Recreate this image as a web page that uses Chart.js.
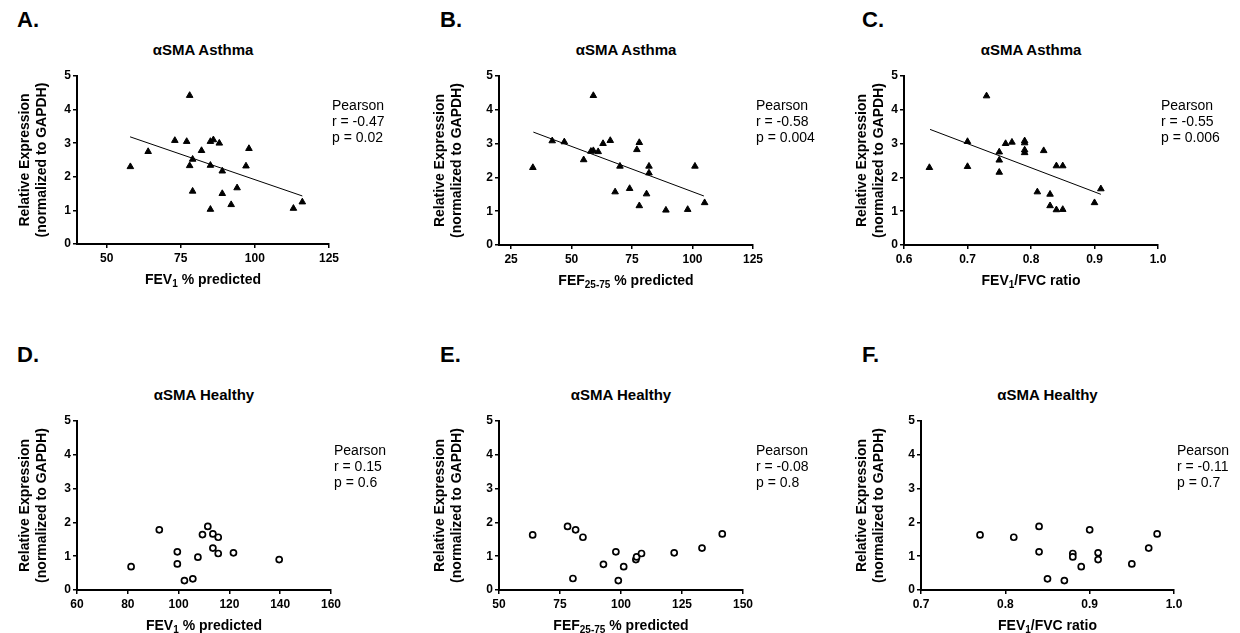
<!DOCTYPE html>
<html><head><meta charset="utf-8">
<script src="https://cdn.jsdelivr.net/npm/chart.js@4.4.1/dist/chart.umd.min.js"></script>
<style>
html,body{margin:0;padding:0;background:#fff;}
body{width:1240px;height:633px;position:relative;overflow:hidden;font-family:"Liberation Sans",Arial,Helvetica,sans-serif;color:#000;}
canvas{position:absolute;}
.t{position:absolute;white-space:nowrap;}
.letter{font-weight:bold;font-size:22px;line-height:24px;}
.title{font-weight:bold;font-size:15px;line-height:18px;text-align:center;width:300px;}
.stat{font-size:14px;line-height:16px;}
.xt{font-weight:bold;font-size:14px;line-height:18px;text-align:center;width:300px;}
.xt sub{font-size:10px;vertical-align:-3px;line-height:0;}
</style></head><body>
<script>
// ---------- data ----------
const yTicks = [0, 1, 2, 3, 4, 5];
const yTitle = ['Relative Expression', '(normalized to GAPDH)'];

// A. FEV1 % predicted vs αSMA (asthma)
const fev1PctAsthma = [58, 64, 73, 78, 77, 82, 79, 78, 79, 85, 86, 88, 85, 89, 89, 85, 92, 94, 97, 98, 113, 116];
const smaFev1Asthma = [2.30, 2.75, 3.08, 4.42, 3.05, 2.78, 2.52, 2.33, 1.57, 3.05, 3.10, 3.00, 2.34, 2.17, 1.50, 1.03, 1.17, 1.67, 2.32, 2.84, 1.06, 1.25];
const fitXA = [57.9, 116];
const fitYA = [3.19, 1.43];
const xTicksA = [50, 75, 100, 125];

// B. FEF25-75 % predicted vs αSMA (asthma)
const fefPctAsthma = [34, 42, 47, 55, 59, 58, 59, 61, 63, 66, 70, 68, 74, 77, 78, 78, 82, 82, 81, 89, 98, 101, 105];
const smaFefAsthma = [2.29, 3.08, 3.05, 2.52, 4.42, 2.77, 2.79, 2.76, 3.00, 3.09, 2.33, 1.57, 1.67, 2.82, 3.03, 1.16, 2.33, 2.13, 1.51, 1.03, 1.05, 2.33, 1.25];
const fitXB = [34.2, 104.7];
const fitYB = [3.34, 1.45];
const xTicksB = [25, 50, 75, 100, 125];

// C. FEV1/FVC ratio vs αSMA (asthma)
const ratioAsthma = [0.64, 0.70, 0.70, 0.73, 0.75, 0.75, 0.75, 0.76, 0.77, 0.79, 0.79, 0.79, 0.79, 0.82, 0.81, 0.83, 0.83, 0.84, 0.85, 0.84, 0.85, 0.90, 0.91];
const smaRatioAsthma = [2.29, 3.06, 2.32, 4.41, 2.75, 2.51, 2.15, 3.00, 3.04, 3.08, 3.02, 2.81, 2.73, 2.79, 1.57, 1.50, 1.16, 2.34, 2.34, 1.04, 1.05, 1.25, 1.66];
const fitXC = [0.641, 0.91];
const fitYC = [3.42, 1.50];
const xTicksC = [0.6, 0.7, 0.8, 0.9, 1.0];

// D. FEV1 % predicted vs αSMA (healthy)
const fev1PctHealthy = [81.3, 92.4, 99.5, 99.5, 102.3, 105.6, 107.6, 109.4, 111.5, 113.5, 115.6, 113.5, 115.6, 121.6, 139.6];
const smaFev1Healthy = [0.69, 1.78, 1.13, 0.77, 0.28, 0.33, 0.97, 1.64, 1.88, 1.66, 1.56, 1.24, 1.08, 1.10, 0.90];
const xTicksD = [60, 80, 100, 120, 140, 160];

// E. FEF25-75 % predicted vs αSMA (healthy)
const fefPctHealthy = [63.8, 78.1, 81.4, 84.4, 80.3, 92.8, 97.9, 98.9, 101.1, 106.1, 106.4, 108.4, 121.8, 133.2, 141.5];
const smaFefHealthy = [1.63, 1.88, 1.78, 1.56, 0.34, 0.76, 1.13, 0.28, 0.69, 0.90, 0.98, 1.08, 1.10, 1.24, 1.66];
const xTicksE = [50, 75, 100, 125, 150];

// F. FEV1/FVC ratio vs αSMA (healthy)
const ratioHealthy = [0.77, 0.81, 0.84, 0.84, 0.85, 0.87, 0.88, 0.88, 0.89, 0.90, 0.91, 0.91, 0.95, 0.97, 0.98];
const smaRatioHealthy = [1.63, 1.56, 1.88, 1.13, 0.33, 0.28, 1.08, 0.98, 0.69, 1.78, 1.10, 0.90, 0.77, 1.24, 1.66];
const xTicksF = [0.7, 0.8, 0.9, 1.0];

// ---------- layout / drawing ----------
const FONT = '"Liberation Sans", Arial, Helvetica, sans-serif';
const YT_SIZE = 14, YT_LH = 1.2, LH = YT_SIZE * YT_LH;

const panels = [
  {letter:'A.', lx:17, ly:8, title:'\u03b1SMA Asthma', xt:'FEV<sub>1</sub> % predicted', stats:['Pearson','r = -0.47','p = 0.02'], sx:332, sy:97,
   xs:fev1PctAsthma, ys:smaFev1Asthma, fitX:fitXA, fitY:fitYA, xticks:xTicksA, xmin:40, xmax:125, dec:0, asthma:true,
   cx:0, cy:60, cw:400, ch:220, plot:{l:77, r:329, t:76, b:244}, yTitleX:25},
  {letter:'B.', lx:440, ly:8, title:'\u03b1SMA Asthma', xt:'FEF<sub>25-75</sub> % predicted', stats:['Pearson','r = -0.58','p = 0.004'], sx:756, sy:97,
   xs:fefPctAsthma, ys:smaFefAsthma, fitX:fitXB, fitY:fitYB, xticks:xTicksB, xmin:20, xmax:125, dec:0, asthma:true,
   cx:400, cy:60, cw:420, ch:220, plot:{l:499, r:753, t:76, b:245}, yTitleX:440},
  {letter:'C.', lx:862, ly:8, title:'\u03b1SMA Asthma', xt:'FEV<sub>1</sub>/FVC ratio', stats:['Pearson','r = -0.55','p = 0.006'], sx:1161, sy:97,
   xs:ratioAsthma, ys:smaRatioAsthma, fitX:fitXC, fitY:fitYC, xticks:xTicksC, xmin:0.6, xmax:1.0, dec:1, asthma:true,
   cx:820, cy:60, cw:420, ch:220, plot:{l:904, r:1158, t:76, b:245}, yTitleX:862},
  {letter:'D.', lx:17, ly:343, title:'\u03b1SMA Healthy', xt:'FEV<sub>1</sub> % predicted', stats:['Pearson','r = 0.15','p = 0.6'], sx:334, sy:442,
   xs:fev1PctHealthy, ys:smaFev1Healthy, xticks:xTicksD, xmin:60, xmax:160, dec:0, asthma:false,
   cx:0, cy:405, cw:400, ch:220, plot:{l:77, r:331, t:421, b:590}, yTitleX:25},
  {letter:'E.', lx:440, ly:343, title:'\u03b1SMA Healthy', xt:'FEF<sub>25-75</sub> % predicted', stats:['Pearson','r = -0.08','p = 0.8'], sx:756, sy:442,
   xs:fefPctHealthy, ys:smaFefHealthy, xticks:xTicksE, xmin:50, xmax:150, dec:0, asthma:false,
   cx:400, cy:405, cw:420, ch:220, plot:{l:499, r:743, t:421, b:590}, yTitleX:440},
  {letter:'F.', lx:862, ly:343, title:'\u03b1SMA Healthy', xt:'FEV<sub>1</sub>/FVC ratio', stats:['Pearson','r = -0.11','p = 0.7'], sx:1177, sy:442,
   xs:ratioHealthy, ys:smaRatioHealthy, xticks:xTicksF, xmin:0.7, xmax:1.0, dec:1, asthma:false,
   cx:820, cy:405, cw:420, ch:220, plot:{l:921, r:1174, t:421, b:590}, yTitleX:862}
];

function addText(cls, html, left, top) {
  const d = document.createElement('div');
  d.className = 't ' + cls;
  d.innerHTML = html;
  d.style.left = left + 'px';
  d.style.top = top + 'px';
  document.body.appendChild(d);
  return d;
}

function makePanel(p) {
  const c = document.createElement('canvas');
  c.width = p.cw; c.height = p.ch;
  c.style.left = p.cx + 'px'; c.style.top = p.cy + 'px';
  c.style.width = p.cw + 'px'; c.style.height = p.ch + 'px';
  document.body.appendChild(c);

  const padLeft = p.yTitleX - LH / 2 - p.cx;
  const yW = p.plot.l - p.cx - padLeft;
  const padRight = p.cx + p.cw - p.plot.r;
  const padTop = p.plot.t - p.cy;
  const xH = 26;
  const padBottom = p.cy + p.ch - p.plot.b - xH;

  const datasets = [{
    data: p.xs.map((x, i) => ({x: x, y: p.ys[i]})),
    showLine: false,
    pointStyle: p.asthma ? 'triangle' : 'circle',
    pointRadius: p.asthma ? 3.8 : 3,
    pointBorderWidth: p.asthma ? 1 : 1.7,
    pointBackgroundColor: p.asthma ? '#000' : '#fff',
    pointBorderColor: '#000'
  }];
  if (p.fitX) {
    datasets.push({
      data: p.fitX.map((x, i) => ({x: x, y: p.fitY[i]})),
      showLine: true, borderColor: '#000', borderWidth: 1, pointRadius: 0, fill: false
    });
  }
  const tickFont = {family: FONT, size: 12, weight: 'bold'};
  new Chart(c, {
    type: 'scatter',
    data: {datasets: datasets},
    options: {
      responsive: false, animation: false, devicePixelRatio: 1, events: [],
      layout: {padding: {left: padLeft, right: padRight, top: padTop, bottom: padBottom}},
      plugins: {legend: {display: false}, tooltip: {enabled: false}, title: {display: false}},
      scales: {
        x: {
          type: 'linear', min: p.xmin, max: p.xmax,
          afterBuildTicks: s => { s.ticks = p.xticks.map(v => ({value: v})); },
          afterFit: s => { s.height = xH; },
          grid: {drawOnChartArea: false, drawTicks: true, tickLength: 4, color: '#000', lineWidth: 1.5},
          border: {display: true, color: '#000', width: 2},
          ticks: {color: '#000', padding: 3, maxRotation: 0, autoSkip: false, font: tickFont,
                  callback: v => Number(v).toFixed(p.dec)}
        },
        y: {
          type: 'linear', min: 0, max: 5,
          afterBuildTicks: s => { s.ticks = yTicks.map(v => ({value: v})); },
          afterFit: s => { s.width = yW; },
          grid: {drawOnChartArea: false, drawTicks: true, tickLength: 4, color: '#000', lineWidth: 1.5},
          border: {display: true, color: '#000', width: 2},
          ticks: {color: '#000', padding: 2, font: tickFont, callback: v => String(v)},
          title: {display: true, text: yTitle, color: '#000', padding: 0,
                  font: {family: FONT, size: YT_SIZE, weight: 'bold', lineHeight: YT_LH}}
        }
      }
    }
  });

  const cxm = (p.plot.l + p.plot.r) / 2;
  addText('letter', p.letter, p.lx, p.ly);
  addText('title', p.title, cxm - 150, p.plot.t - 35.5);
  addText('xt', p.xt, cxm - 150, p.plot.b + 26);
  addText('stat', p.stats.join('<br>'), p.sx, p.sy);
}

panels.forEach(makePanel);
</script>
</body></html>
